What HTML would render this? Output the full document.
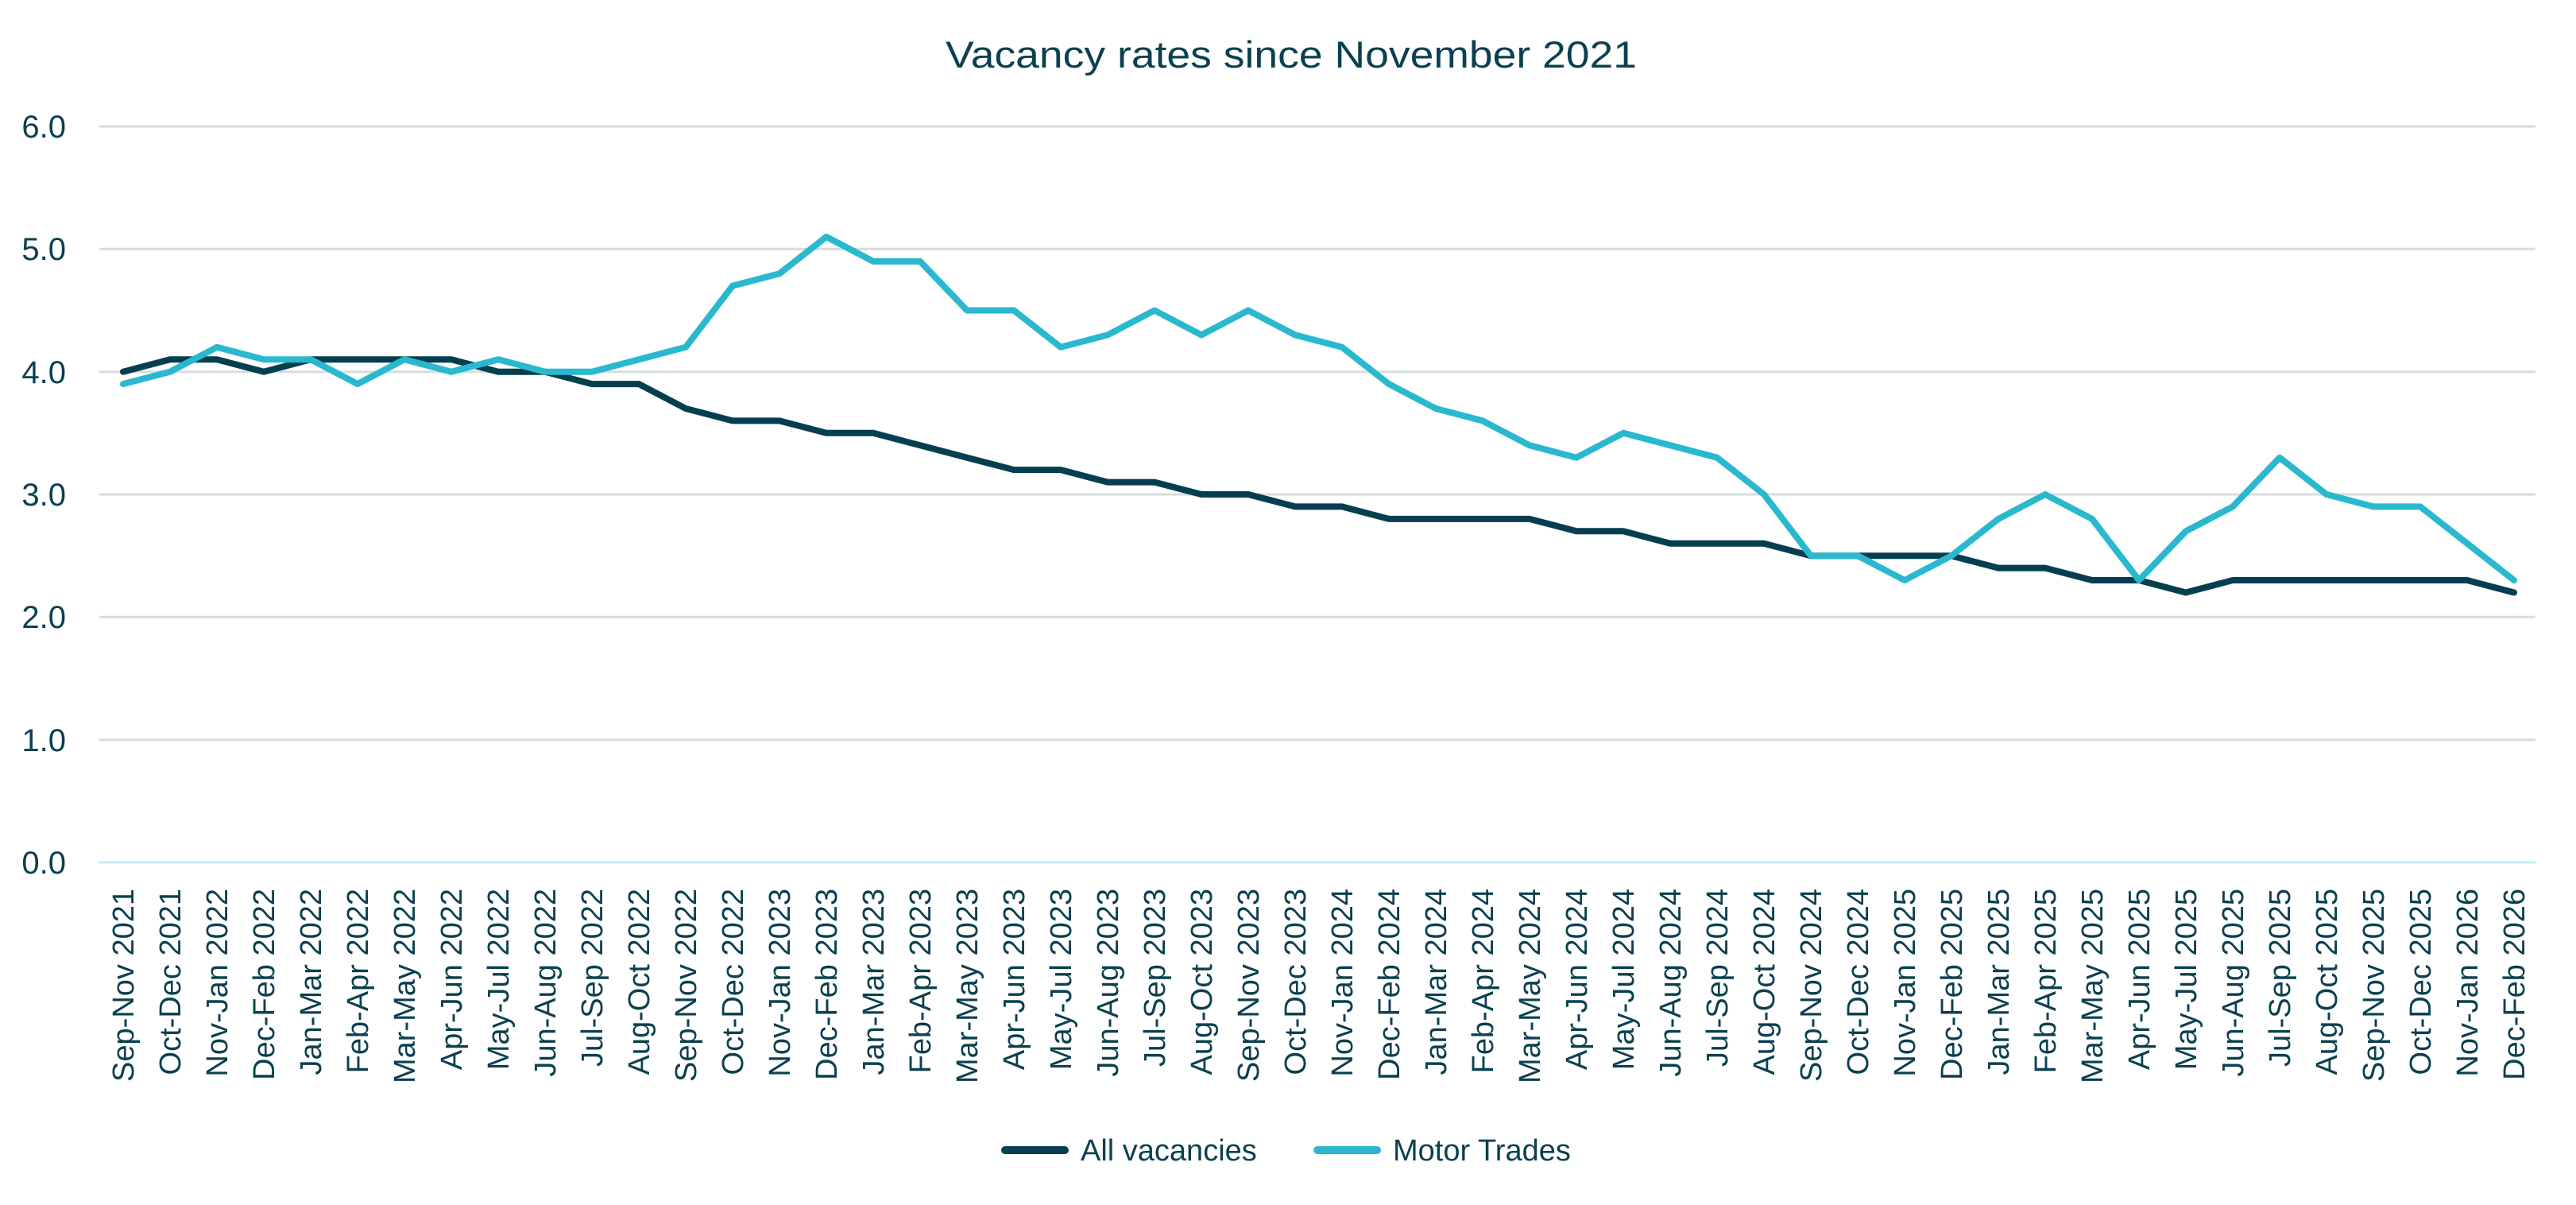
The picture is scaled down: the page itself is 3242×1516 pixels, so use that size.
<!DOCTYPE html>
<html><head><meta charset="utf-8"><style>
html,body{margin:0;padding:0;background:#fff;}
svg{display:block;}
text{font-family:"Liberation Sans",sans-serif;fill:#0b4050;}
</style></head><body>
<svg width="3242" height="1516" viewBox="0 0 3242 1516" xmlns="http://www.w3.org/2000/svg">
<rect width="3242" height="1516" fill="#fff"/>
<text x="1625" y="85" font-size="47" text-anchor="middle" textLength="870" lengthAdjust="spacingAndGlyphs">Vacancy rates since November 2021</text>
<g stroke="#d6dddd" stroke-width="3">
<line x1="125" x2="3191" y1="159" y2="159"/>
<line x1="125" x2="3191" y1="313.3" y2="313.3"/>
<line x1="125" x2="3191" y1="467.7" y2="467.7"/>
<line x1="125" x2="3191" y1="622" y2="622"/>
<line x1="125" x2="3191" y1="776.3" y2="776.3"/>
<line x1="125" x2="3191" y1="930.7" y2="930.7"/>
</g>
<line x1="125" x2="3191" y1="1085" y2="1085" stroke="#c3eef8" stroke-width="3"/>
<g font-size="40" text-anchor="end">
<text x="83" y="173">6.0</text>
<text x="83" y="327">5.0</text>
<text x="83" y="482">4.0</text>
<text x="83" y="636">3.0</text>
<text x="83" y="790">2.0</text>
<text x="83" y="945">1.0</text>
<text x="83" y="1099">0.0</text>
</g>
<g font-size="38" text-anchor="end">
<text transform="translate(168,1118) rotate(-90)">Sep-Nov 2021</text>
<text transform="translate(227,1118) rotate(-90)">Oct-Dec 2021</text>
<text transform="translate(286,1118) rotate(-90)">Nov-Jan 2022</text>
<text transform="translate(345,1118) rotate(-90)">Dec-Feb 2022</text>
<text transform="translate(404,1118) rotate(-90)">Jan-Mar 2022</text>
<text transform="translate(463,1118) rotate(-90)">Feb-Apr 2022</text>
<text transform="translate(522,1118) rotate(-90)">Mar-May 2022</text>
<text transform="translate(581,1118) rotate(-90)">Apr-Jun 2022</text>
<text transform="translate(640,1118) rotate(-90)">May-Jul 2022</text>
<text transform="translate(699,1118) rotate(-90)">Jun-Aug 2022</text>
<text transform="translate(758,1118) rotate(-90)">Jul-Sep 2022</text>
<text transform="translate(817,1118) rotate(-90)">Aug-Oct 2022</text>
<text transform="translate(876,1118) rotate(-90)">Sep-Nov 2022</text>
<text transform="translate(935,1118) rotate(-90)">Oct-Dec 2022</text>
<text transform="translate(994,1118) rotate(-90)">Nov-Jan 2023</text>
<text transform="translate(1053,1118) rotate(-90)">Dec-Feb 2023</text>
<text transform="translate(1112,1118) rotate(-90)">Jan-Mar 2023</text>
<text transform="translate(1171,1118) rotate(-90)">Feb-Apr 2023</text>
<text transform="translate(1230,1118) rotate(-90)">Mar-May 2023</text>
<text transform="translate(1289,1118) rotate(-90)">Apr-Jun 2023</text>
<text transform="translate(1348,1118) rotate(-90)">May-Jul 2023</text>
<text transform="translate(1407,1118) rotate(-90)">Jun-Aug 2023</text>
<text transform="translate(1466,1118) rotate(-90)">Jul-Sep 2023</text>
<text transform="translate(1525,1118) rotate(-90)">Aug-Oct 2023</text>
<text transform="translate(1584,1118) rotate(-90)">Sep-Nov 2023</text>
<text transform="translate(1643,1118) rotate(-90)">Oct-Dec 2023</text>
<text transform="translate(1702,1118) rotate(-90)">Nov-Jan 2024</text>
<text transform="translate(1761,1118) rotate(-90)">Dec-Feb 2024</text>
<text transform="translate(1820,1118) rotate(-90)">Jan-Mar 2024</text>
<text transform="translate(1879,1118) rotate(-90)">Feb-Apr 2024</text>
<text transform="translate(1938,1118) rotate(-90)">Mar-May 2024</text>
<text transform="translate(1997,1118) rotate(-90)">Apr-Jun 2024</text>
<text transform="translate(2056,1118) rotate(-90)">May-Jul 2024</text>
<text transform="translate(2115,1118) rotate(-90)">Jun-Aug 2024</text>
<text transform="translate(2174,1118) rotate(-90)">Jul-Sep 2024</text>
<text transform="translate(2233,1118) rotate(-90)">Aug-Oct 2024</text>
<text transform="translate(2292,1118) rotate(-90)">Sep-Nov 2024</text>
<text transform="translate(2351,1118) rotate(-90)">Oct-Dec 2024</text>
<text transform="translate(2410,1118) rotate(-90)">Nov-Jan 2025</text>
<text transform="translate(2469,1118) rotate(-90)">Dec-Feb 2025</text>
<text transform="translate(2528,1118) rotate(-90)">Jan-Mar 2025</text>
<text transform="translate(2587,1118) rotate(-90)">Feb-Apr 2025</text>
<text transform="translate(2646,1118) rotate(-90)">Mar-May 2025</text>
<text transform="translate(2705,1118) rotate(-90)">Apr-Jun 2025</text>
<text transform="translate(2764,1118) rotate(-90)">May-Jul 2025</text>
<text transform="translate(2823,1118) rotate(-90)">Jun-Aug 2025</text>
<text transform="translate(2882,1118) rotate(-90)">Jul-Sep 2025</text>
<text transform="translate(2941,1118) rotate(-90)">Aug-Oct 2025</text>
<text transform="translate(3000,1118) rotate(-90)">Sep-Nov 2025</text>
<text transform="translate(3059,1118) rotate(-90)">Oct-Dec 2025</text>
<text transform="translate(3118,1118) rotate(-90)">Nov-Jan 2026</text>
<text transform="translate(3177,1118) rotate(-90)">Dec-Feb 2026</text>
</g>
<polyline id="all" fill="none" stroke="#053f4f" stroke-width="8" stroke-linejoin="round" stroke-linecap="round" points=""/>
<polyline id="motor" fill="none" stroke="#2ab8cf" stroke-width="8" stroke-linejoin="round" stroke-linecap="round" points=""/>
<line x1="1265" x2="1340" y1="1447" y2="1447" stroke="#053f4f" stroke-width="10" stroke-linecap="round"/>
<text x="1360" y="1460" font-size="38">All vacancies</text>
<line x1="1658" x2="1733" y1="1447" y2="1447" stroke="#2ab8cf" stroke-width="10" stroke-linecap="round"/>
<text x="1753" y="1460" font-size="38">Motor Trades</text>
</svg>
<script>
var a=[4.0,4.1,4.1,4.0,4.1,4.1,4.1,4.1,4.0,4.0,3.9,3.9,3.7,3.6,3.6,3.5,3.5,3.4,3.3,3.2,3.2,3.1,3.1,3.0,3.0,2.9,2.9,2.8,2.8,2.8,2.8,2.7,2.7,2.6,2.6,2.6,2.5,2.5,2.5,2.5,2.4,2.4,2.3,2.3,2.2,2.3,2.3,2.3,2.3,2.3,2.3,2.2];
var m=[3.9,4.0,4.2,4.1,4.1,3.9,4.1,4.0,4.1,4.0,4.0,4.1,4.2,4.7,4.8,5.1,4.9,4.9,4.5,4.5,4.2,4.3,4.5,4.3,4.5,4.3,4.2,3.9,3.7,3.6,3.4,3.3,3.5,3.4,3.3,3.0,2.5,2.5,2.3,2.5,2.8,3.0,2.8,2.3,2.7,2.9,3.3,3.0,2.9,2.9,2.6,2.3];
function pts(d){return d.map(function(v,i){return (155+59*i)+","+(1085-154.33*v).toFixed(1);}).join(" ");}
document.getElementById("all").setAttribute("points",pts(a));
document.getElementById("motor").setAttribute("points",pts(m));
</script>
</body></html>
